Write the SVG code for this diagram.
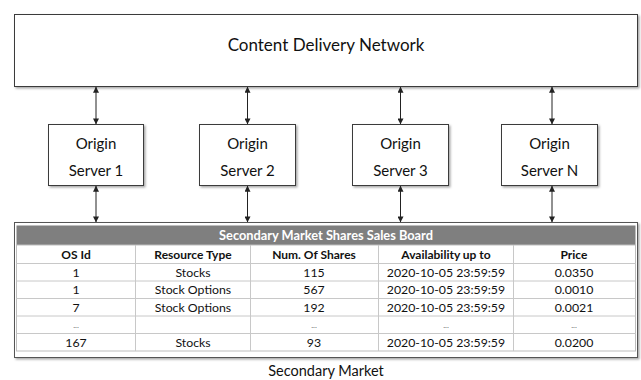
<svg xmlns="http://www.w3.org/2000/svg" width="641" height="380" viewBox="0 0 641 380">
<defs>
<filter id="sh" x="-5%" y="-5%" width="110%" height="120%">
<feDropShadow dx="1.5" dy="1.5" stdDeviation="1" flood-color="#000" flood-opacity="0.35"/>
</filter>
<marker id="ah" viewBox="0 0 8 8" refX="7.5" refY="4" markerWidth="6" markerHeight="6" orient="auto-start-reverse" markerUnits="userSpaceOnUse">
<path d="M0,0 L8,4 L0,8 Z" fill="#222"/>
</marker>
</defs>
<style>
.box{fill:#fff;stroke:#3a3a3a;stroke-width:1}
.t{font-family:Lato,"Liberation Sans",sans-serif;fill:#111;text-anchor:middle}
.big{font-size:17px}
.mid{font-size:15px}
.cell{font-size:12.3px}
.hd{font-size:12px;font-weight:bold}
.conn{stroke:#222;stroke-width:1;fill:none;marker-start:url(#ah);marker-end:url(#ah)}
.grid{stroke:#c8c8c8;stroke-width:1}
</style>
<g id="cdn">
<rect class="box" x="14.5" y="14.5" width="623" height="72" filter="url(#sh)"/>
<text class="t big" x="326" y="51">Content Delivery Network</text>
</g>
<g id="os1">
<rect class="box" x="48.5" y="124.5" width="95" height="61" filter="url(#sh)"/>
<text class="t mid" x="96" y="149">Origin</text>
<text class="t mid" x="96" y="176">Server 1</text>
</g>
<g id="os2">
<rect class="box" x="199.5" y="124.5" width="96" height="61" filter="url(#sh)"/>
<text class="t mid" x="247.5" y="149">Origin</text>
<text class="t mid" x="247.5" y="176">Server 2</text>
</g>
<g id="os3">
<rect class="box" x="352.5" y="124.5" width="96" height="61" filter="url(#sh)"/>
<text class="t mid" x="400.5" y="149">Origin</text>
<text class="t mid" x="400.5" y="176">Server 3</text>
</g>
<g id="osn">
<rect class="box" x="501.5" y="124.5" width="96" height="61" filter="url(#sh)"/>
<text class="t mid" x="549.5" y="149">Origin</text>
<text class="t mid" x="549.5" y="176">Server N</text>
</g>
<g id="connectors">
<line class="conn" x1="96" y1="87" x2="96" y2="124"/>
<line class="conn" x1="247.5" y1="87" x2="247.5" y2="124"/>
<line class="conn" x1="400.5" y1="87" x2="400.5" y2="124"/>
<line class="conn" x1="552" y1="87" x2="552" y2="124"/>
<line class="conn" x1="96" y1="186" x2="96" y2="222"/>
<line class="conn" x1="247.5" y1="186" x2="247.5" y2="222"/>
<line class="conn" x1="400.5" y1="186" x2="400.5" y2="222"/>
<line class="conn" x1="552" y1="186" x2="552" y2="222"/>
</g>
<g id="market">
<rect x="14.5" y="222.5" width="623" height="135" fill="#fff" stroke="#555" stroke-width="1" filter="url(#sh)"/>
<rect x="16.5" y="225.5" width="619" height="19.5" fill="#7f7f7f"/>
<text class="t hd" x="326" y="240" style="fill:#fff;font-size:12.8px">Secondary Market Shares Sales Board</text>
<rect x="16.5" y="245" width="619" height="106" fill="#fff" stroke="#bdbdbd" stroke-width="1"/>
<g class="grid">
<line x1="16.5" y1="263.5" x2="635.5" y2="263.5"/>
<line x1="16.5" y1="281" x2="635.5" y2="281"/>
<line x1="16.5" y1="298.5" x2="635.5" y2="298.5"/>
<line x1="16.5" y1="316" x2="635.5" y2="316"/>
<line x1="16.5" y1="333.5" x2="635.5" y2="333.5"/>
<line x1="135.5" y1="245" x2="135.5" y2="351"/>
<line x1="250.5" y1="245" x2="250.5" y2="351"/>
<line x1="378.5" y1="245" x2="378.5" y2="351"/>
<line x1="513.5" y1="245" x2="513.5" y2="351"/>
</g>
<text class="t hd" x="76" y="259">OS Id</text>
<text class="t hd" x="193" y="259">Resource Type</text>
<text class="t hd" x="314" y="259">Num. Of Shares</text>
<text class="t hd" x="446" y="259">Availability up to</text>
<text class="t hd" x="574" y="259">Price</text>
<text class="t cell" x="76" y="276.5">1</text>
<text class="t cell" x="193" y="276.5">Stocks</text>
<text class="t cell" x="314" y="276.5">115</text>
<text class="t cell" x="446" y="276.5">2020-10-05 23:59:59</text>
<text class="t cell" x="574" y="276.5">0.0350</text>
<text class="t cell" x="76" y="294">1</text>
<text class="t cell" x="193" y="294">Stock Options</text>
<text class="t cell" x="314" y="294">567</text>
<text class="t cell" x="446" y="294">2020-10-05 23:59:59</text>
<text class="t cell" x="574" y="294">0.0010</text>
<text class="t cell" x="76" y="311.5">7</text>
<text class="t cell" x="193" y="311.5">Stock Options</text>
<text class="t cell" x="314" y="311.5">192</text>
<text class="t cell" x="446" y="311.5">2020-10-05 23:59:59</text>
<text class="t cell" x="574" y="311.5">0.0021</text>
<text class="t cell" x="76" y="328" style="font-size:8px;fill:#666">...</text>
<text class="t cell" x="314" y="328" style="font-size:8px;fill:#666">...</text>
<text class="t cell" x="446" y="328" style="font-size:8px;fill:#666">...</text>
<text class="t cell" x="574" y="328" style="font-size:8px;fill:#666">...</text>
<text class="t cell" x="76" y="346.5">167</text>
<text class="t cell" x="193" y="346.5">Stocks</text>
<text class="t cell" x="314" y="346.5">93</text>
<text class="t cell" x="446" y="346.5">2020-10-05 23:59:59</text>
<text class="t cell" x="574" y="346.5">0.0200</text>
<text class="t" x="326" y="375.5" style="font-size:14.5px">Secondary Market</text>
</g>
</svg>
